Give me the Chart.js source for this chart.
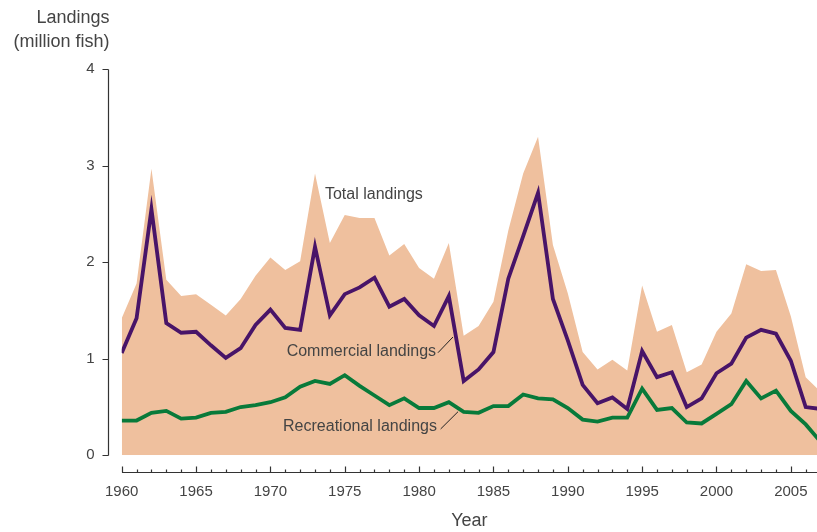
<!DOCTYPE html>
<html>
<head>
<meta charset="utf-8">
<script src="https://cdn.jsdelivr.net/npm/chart.js@4.4.1/dist/chart.umd.min.js"></script>
<style>
    html, body { margin: 0; padding: 0; background: #fff; }
    #wrap { width: 817px; height: 532px; position: relative; }
</style>
</head>
<body>
<div id="wrap"><canvas id="landings"></canvas></div>
<script>
// data (million fish)
const years = [1960, 1961, 1962, 1963, 1964, 1965, 1966, 1967, 1968, 1969,
    1970, 1971, 1972, 1973, 1974, 1975, 1976, 1977, 1978, 1979,
    1980, 1981, 1982, 1983, 1984, 1985, 1986, 1987, 1988, 1989,
    1990, 1991, 1992, 1993, 1994, 1995, 1996, 1997, 1998, 1999,
    2000, 2001, 2002, 2003, 2004, 2005, 2006, 2007];

const totalLandings = [1.42, 1.78, 2.97, 1.82, 1.65, 1.67, 1.56, 1.45, 1.62, 1.86,
    2.05, 1.92, 2.01, 2.92, 2.20, 2.49, 2.46, 2.46, 2.07, 2.19,
    1.94, 1.83, 2.20, 1.24, 1.34, 1.59, 2.33, 2.92, 3.30, 2.18,
    1.68, 1.07, 0.89, 0.99, 0.88, 1.76, 1.28, 1.35, 0.86, 0.94,
    1.28, 1.47, 1.98, 1.91, 1.92, 1.44, 0.81, 0.66];

const commercialLandings = [1.06, 1.42, 2.55, 1.37, 1.27, 1.28, 1.14, 1.01, 1.11, 1.35,
    1.51, 1.32, 1.30, 2.16, 1.45, 1.67, 1.74, 1.84, 1.54, 1.62,
    1.45, 1.34, 1.65, 0.77, 0.89, 1.07, 1.83, 2.27, 2.72, 1.62,
    1.19, 0.73, 0.54, 0.60, 0.48, 1.08, 0.81, 0.86, 0.50, 0.59,
    0.85, 0.95, 1.22, 1.30, 1.26, 0.98, 0.50, 0.48];

const recreationalLandings = [0.36, 0.36, 0.44, 0.46, 0.38, 0.39, 0.44, 0.45, 0.50, 0.52,
    0.55, 0.60, 0.71, 0.77, 0.74, 0.83, 0.72, 0.62, 0.52, 0.59,
    0.49, 0.49, 0.55, 0.45, 0.44, 0.51, 0.51, 0.63, 0.59, 0.58,
    0.49, 0.37, 0.35, 0.39, 0.39, 0.69, 0.47, 0.49, 0.34, 0.33,
    0.43, 0.53, 0.77, 0.59, 0.67, 0.46, 0.32, 0.14];

const yTicks = [0, 1, 2, 3, 4];
const xTickLabels = [1960, 1965, 1970, 1975, 1980, 1985, 1990, 1995, 2000, 2005];

const textColor = '#444';
const axisColor = '#333';
const fontName = '"Liberation Sans", Arial, sans-serif';

function toPoints(vals) {
    return vals.map(function (v, i) { return { x: years[i], y: v }; });
}

// axes sit a little away from the plot, drawn from the chart's own scales
const offsetAxes = {
    id: 'offsetAxes',
    afterDraw(chart) {
        const ctx = chart.ctx;
        const x = chart.scales.x;
        const y = chart.scales.y;
        const axX = Math.round(x.left - 13.4) + 0.5;
        const axY = Math.round(y.bottom + 17) + 0.5;

        ctx.save();
        ctx.strokeStyle = axisColor;
        ctx.lineWidth = 1.2;

        // y axis
        ctx.beginPath();
        ctx.moveTo(axX, Math.round(y.getPixelForValue(4)) + 0.5);
        ctx.lineTo(axX, Math.round(y.getPixelForValue(0)) + 0.5);
        yTicks.forEach(function (t) {
            const py = Math.round(y.getPixelForValue(t)) + 0.5;
            ctx.moveTo(axX - 6, py);
            ctx.lineTo(axX, py);
        });
        ctx.stroke();

        ctx.fillStyle = textColor;
        ctx.font = '15px ' + fontName;
        ctx.textAlign = 'right';
        ctx.textBaseline = 'middle';
        yTicks.forEach(function (t) {
            ctx.fillText(String(t), axX - 14, y.getPixelForValue(t));
        });

        // x axis
        ctx.beginPath();
        ctx.moveTo(Math.round(x.getPixelForValue(1960)), axY);
        ctx.lineTo(chart.width, axY);
        years.forEach(function (yr) {
            const px = Math.round(x.getPixelForValue(yr)) + 0.5;
            const h = yr % 5 === 0 ? 6 : 3;
            ctx.moveTo(px, axY);
            ctx.lineTo(px, axY - h);
        });
        ctx.stroke();

        ctx.textAlign = 'center';
        xTickLabels.forEach(function (yr) {
            ctx.fillText(String(yr), x.getPixelForValue(yr), axY + 19);
        });

        // axis titles
        ctx.font = '18px ' + fontName;
        ctx.textAlign = 'right';
        ctx.fillText('Landings', axX + 1, 18);
        ctx.fillText('(million fish)', axX + 1, 42);
        ctx.textAlign = 'center';
        ctx.fillText('Year', (x.left + chart.width) / 2, 521);
        ctx.restore();
    }
};

// series labels with leader lines
const seriesLabels = {
    id: 'seriesLabels',
    afterDatasetsDraw(chart) {
        const ctx = chart.ctx;
        const x = chart.scales.x;
        const y = chart.scales.y;
        ctx.save();
        ctx.fillStyle = textColor;
        ctx.font = '16px ' + fontName;
        ctx.textBaseline = 'middle';

        ctx.textAlign = 'left';
        ctx.fillText('Total landings', x.getPixelForValue(1973.67), y.getPixelForValue(2.70));

        ctx.textAlign = 'right';
        ctx.fillText('Commercial landings', x.getPixelForValue(1981.14), y.getPixelForValue(1.07));
        ctx.fillText('Recreational landings', x.getPixelForValue(1981.2), y.getPixelForValue(0.296));

        ctx.strokeStyle = '#222';
        ctx.lineWidth = 1;
        ctx.beginPath();
        ctx.moveTo(x.getPixelForValue(1981.27), y.getPixelForValue(1.063));
        ctx.lineTo(x.getPixelForValue(1982.28), y.getPixelForValue(1.226));
        ctx.moveTo(x.getPixelForValue(1981.45), y.getPixelForValue(0.273));
        ctx.lineTo(x.getPixelForValue(1982.62), y.getPixelForValue(0.452));
        ctx.stroke();
        ctx.restore();
    }
};

const ctx = document.getElementById('landings').getContext('2d');
const landingsChart = new Chart(ctx, {
    type: 'line',
    data: {
        datasets: [{
            label: 'Commercial landings',
            data: toPoints(commercialLandings),
            borderColor: 'rgb(72, 20, 104)',
            borderWidth: 3.8,
            pointRadius: 0,
            fill: false,
            tension: 0
        }, {
            label: 'Recreational landings',
            data: toPoints(recreationalLandings),
            borderColor: 'rgb(8, 122, 58)',
            borderWidth: 3.8,
            pointRadius: 0,
            fill: false,
            tension: 0
        }, {
            label: 'Total landings',
            data: toPoints(totalLandings),
            backgroundColor: 'rgb(239, 192, 158)',
            borderWidth: 0,
            pointRadius: 0,
            fill: 'origin',
            tension: 0
        }]
    },
    options: {
        responsive: true,
        maintainAspectRatio: false,
        animation: false,
        layout: {
            padding: { left: 121.7, right: 0, top: 69.3, bottom: 76.7 }
        },
        scales: {
            x: { type: 'linear', min: 1960, max: 2006.76, display: false },
            y: { min: 0, max: 4, display: false }
        },
        plugins: {
            legend: { display: false },
            tooltip: { enabled: false }
        }
    },
    plugins: [offsetAxes, seriesLabels]
});
</script>
</body>
</html>
